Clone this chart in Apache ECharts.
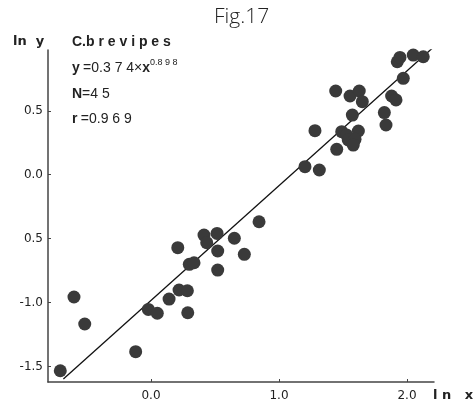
<!DOCTYPE html>
<html><head><meta charset="utf-8">
<script src="https://cdn.jsdelivr.net/npm/echarts@6/dist/echarts.min.js"></script>
<style>html,body{margin:0;padding:0;background:#fff}#c{width:474px;height:409px}</style>
</head><body><div id="c"></div>
<script>
// ln x values
var lnX = [-0.709,-0.602,-0.518,-0.120,0.209,0.414,0.516,0.435,0.521,0.651,0.729,0.299,0.336,0.521,0.844,0.219,0.284,0.141,-0.021,0.049,0.287,1.203,1.315,1.281,1.451,1.443,1.555,1.627,1.651,1.573,1.490,1.529,1.620,1.541,1.594,1.580,1.823,1.836,1.880,1.914,1.971,1.924,1.945,2.049,2.127];
// ln y values
var lnY = [-1.534,-0.957,-1.168,-1.385,-0.571,-0.472,-0.459,-0.532,-0.597,-0.497,-0.623,-0.701,-0.689,-0.746,-0.368,-0.902,-0.908,-0.973,-1.054,-1.084,-1.080,0.063,0.037,0.345,0.199,0.655,0.616,0.655,0.572,0.467,0.337,0.310,0.342,0.272,0.277,0.232,0.486,0.389,0.616,0.585,0.754,0.884,0.918,0.936,0.923];
// regression y = a * x^b  ->  ln y = ln a + b ln x
var coefA = 0.374, coefB = 0.898;
var lineXs = [-0.685, 2.21];
var xTicks = [0, 1, 2];
var xTickLabels = ['0.0', '1.0', '2.0'];
var yTicks = [-1.5, -1.0, -0.5, 0.0, 0.5];
var yTickLabels = ['-1.5', '-1.0', '0.5', '0.0', '0.5'];

var pts = lnX.map(function(v,i){return [v, lnY[i]];});
var linePts = lineXs.map(function(v){return [v, Math.log(coefA) + coefB*v];});

function lbl(ticks, labels){return function(v){for(var i=0;i<ticks.length;i++){if(Math.abs(ticks[i]-v)<1e-6)return labels[i];}return '';};}

var chart = echarts.init(document.getElementById('c'), null, {renderer:'canvas'});
var ff = 'DejaVu Sans';
chart.setOption({
  animation:false,
  backgroundColor:'#fff',
  grid:{left:48, right:40, top:50, bottom:27, containLabel:false},
  xAxis:{type:'value', min:-0.805, max:2.211,
    axisLine:{show:true, onZero:false, lineStyle:{color:'#444', width:1.5}},
    axisTick:{show:true, inside:true, length:3, customValues:xTicks, lineStyle:{color:'#444'}},
    axisLabel:{customValues:xTicks, formatter:lbl(xTicks,xTickLabels), color:'#222', fontFamily:ff, fontSize:12, margin:8},
    splitLine:{show:false}},
  yAxis:{type:'value', min:-1.622, max:0.976,
    axisLine:{show:true, onZero:false, lineStyle:{color:'#444', width:1.5}},
    axisTick:{show:true, inside:true, length:3, customValues:yTicks, lineStyle:{color:'#444'}},
    axisLabel:{customValues:yTicks, formatter:lbl(yTicks,yTickLabels), color:'#222', fontFamily:ff, fontSize:12, margin:5},
    splitLine:{show:false}},
  series:[
    {type:'line', data:linePts, symbol:'none', lineStyle:{color:'#111', width:1.3}, z:1},
    {type:'scatter', data:pts, symbolSize:13, itemStyle:{color:'#3a3a3a', opacity:1}, z:2}
  ],
  graphic:[
    {type:'text', left:214, top:7, style:{text:'Fig.17', font:'300 21px "Open Sans"', fill:'#222'}},
    {type:'text', left:13, top:35, style:{text:'ln  y', font:'bold 13px "DejaVu Sans"', fill:'#222'}},
    {type:'text', left:433, top:389, style:{text:'l n   x', font:'bold 13px "DejaVu Sans"', fill:'#222'}},
    {type:'text', left:72, top:35, style:{text:'C.b r e v i p e s', font:'bold 14px "Liberation Sans"', fill:'#222'}},
    {type:'text', left:72, top:58, style:{rich:{
        b:{font:'bold 14px "Liberation Sans"', fill:'#222'},
        n:{font:'14px "Liberation Sans"', fill:'#222'},
        s:{font:'9px "Liberation Sans"', fill:'#222', verticalAlign:'top', padding:[0,0,12,0]}
      }, text:'{b|y} {n|=0.3 7 4×}{b|x}{s|0.8 9 8}'}},
    {type:'text', left:72, top:87, style:{rich:{b:{font:'bold 14px "Liberation Sans"', fill:'#222'}, n:{font:'14px "Liberation Sans"', fill:'#222'}}, text:'{b|N}{n|=4 5}'}},
    {type:'text', left:72, top:112, style:{rich:{b:{font:'bold 14px "Liberation Sans"', fill:'#222'}, n:{font:'14px "Liberation Sans"', fill:'#222'}}, text:'{b|r} {n|=0.9 6 9}'}}
  ]
});
</script></body></html>
